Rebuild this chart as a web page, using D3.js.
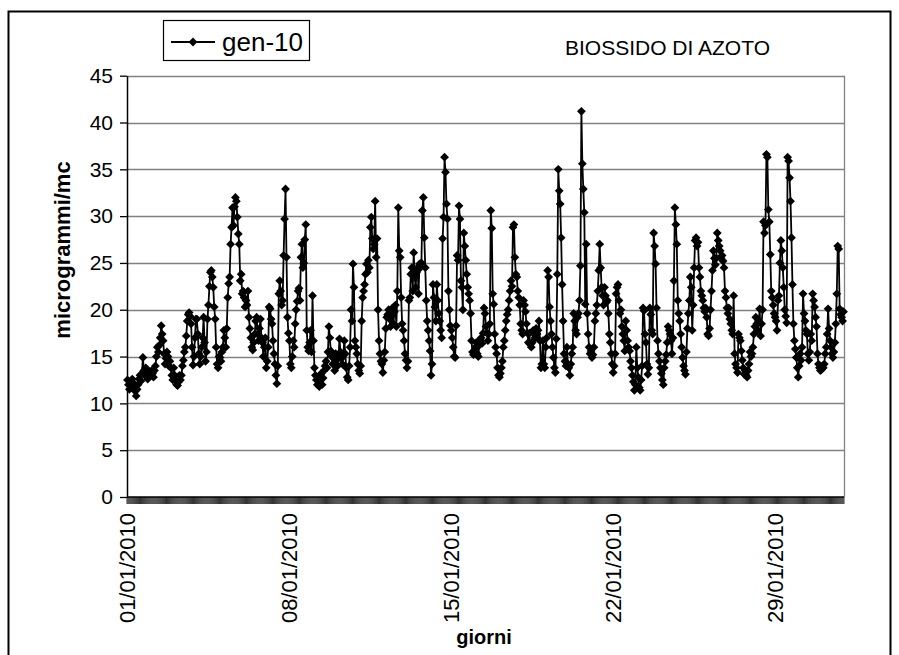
<!DOCTYPE html>
<html><head><meta charset="utf-8">
<script src="https://cdn.jsdelivr.net/npm/d3@7/dist/d3.min.js"></script>
<style>body{margin:0;background:#fff} svg{display:block} text{font-family:Arial,"Liberation Sans",sans-serif;fill:#000}</style>
</head><body><svg id="c" width="899" height="655"></svg>
<script>
// ---- data: hourly NO2, January 2010 (one array per day, 24 hourly values) ----
const day01 = [12.5,12.0,11.5,12.3,11.8,12.6,12.2,11.9,11.3,10.8,11.5,12.0,12.6,13.0,12.4,13.2,14.9,13.5,13.0,13.8,13.2,12.6,13.4,13.0];
const day02 = [13.0,13.5,13.2,12.8,13.5,14.0,15.0,16.0,15.5,16.2,17.0,18.3,17.4,16.7,15.3,14.2,14.8,15.5,15.0,14.0,14.5,13.8,13.0,12.5];
const day03 = [13.8,13.0,12.5,12.0,11.9,12.3,13.0,12.5,13.0,14.0,14.6,15.5,16.0,17.2,18.8,19.5,19.7,19.3,18.5,16.0,14.1,15.0,17.0,19.0];
const day04 = [19.0,17.4,15.3,14.2,15.0,16.0,17.0,19.2,16.5,14.5,15.5,19.0,20.5,22.5,24.0,24.2,23.5,22.4,20.3,19.0,16.0,14.2,13.8,15.0];
const day05 = [14.9,14.5,15.5,16.0,17.8,17.0,16.0,18.0,21.3,22.8,23.5,27.0,28.8,30.9,29.0,31.0,32.0,31.6,29.9,28.1,27.0,23.1,23.8,21.7];
const day06 = [22.0,21.3,20.3,21.0,20.5,22.0,19.2,18.0,17.0,16.0,15.7,16.5,17.4,18.8,19.2,17.4,16.7,18.0,19.0,17.0,16.5,15.0,16.0,17.0];
const day07 = [13.8,14.5,16.0,20.3,20.1,19.0,18.5,16.7,15.3,14.2,13.0,12.1,14.0,21.7,23.1,22.0,20.5,21.0,25.8,29.7,32.9,25.6,19.2,17.5];
const day08 = [16.7,14.2,13.8,15.0,16.7,16.0,18.5,20.0,20.9,22.0,22.3,21.0,25.6,27.0,24.5,25.0,27.5,29.1,17.8,16.0,15.6,16.5,17.8,15.5];
const day09 = [21.5,16.7,13.8,13.0,12.5,12.0,12.5,11.8,12.8,13.2,12.0,12.7,13.5,14.0,14.5,13.8,15.5,18.2,17.0,15.6,15.0,14.2,14.8,13.5];
const day10 = [15.3,14.6,14.0,15.0,16.9,15.5,14.8,14.2,15.3,16.7,15.3,13.8,12.8,12.5,14.0,16.0,20.0,18.8,24.9,22.4,16.7,16.0,15.3,14.2];
const day11 = [13.5,13.2,14.0,18.8,21.3,22.0,22.7,23.8,24.9,24.0,25.3,24.5,28.8,29.9,27.6,26.5,27.0,31.6,25.6,27.6,20.0,16.7,15.3,14.5];
const day12 = [14.2,13.3,14.6,15.5,18.0,19.2,19.5,20.0,19.0,18.2,20.1,19.5,18.5,19.8,20.5,18.2,22.0,30.9,26.3,25.6,21.3,18.5,17.8,16.7];
const day13 = [15.3,14.6,13.8,14.5,21.0,21.3,23.8,24.5,22.0,26.1,23.5,22.4,24.0,24.5,21.7,24.9,24.5,25.0,30.6,32.0,27.7,24.5,21.0,18.8];
const day14 = [17.8,16.7,15.6,13.0,14.2,22.7,21.3,20.3,18.8,22.7,21.0,19.6,18.8,17.8,17.0,27.6,29.9,36.3,34.7,31.3,29.7,22.0,20.0,18.3];
const day15 = [17.8,17.0,16.0,15.0,14.9,18.3,25.8,25.3,31.1,29.7,23.1,22.4,20.0,28.2,26.8,25.3,23.8,22.4,21.7,21.0,19.6,16.7,15.5,15.2];
const day16 = [15.6,16.0,16.5,15.3,15.0,16.2,16.8,17.0,16.4,17.5,20.2,19.6,18.2,17.5,16.7,17.4,18.5,30.6,28.7,21.7,20.6,17.4,16.0,15.3];
const day17 = [13.8,13.0,12.8,13.2,13.8,14.5,16.0,16.7,17.8,18.8,19.5,20.0,21.0,22.0,23.1,22.5,28.8,29.1,25.6,23.8,23.5,22.0,21.3,20.5];
const day18 = [18.5,17.8,17.4,21.0,20.5,19.8,18.5,17.5,16.5,17.5,16.3,16.0,16.5,17.8,17.4,17.0,18.0,17.4,17.8,18.8,16.7,13.8,14.2,16.7];
const day19 = [14.2,13.8,16.0,17.0,24.2,23.5,20.3,18.8,17.4,16.0,14.9,13.8,13.3,16.9,23.8,35.0,32.7,31.3,27.7,22.7,18.8,15.3,14.5,14.0];
const day20 = [16.0,14.2,13.8,13.0,14.2,15.3,16.0,19.6,18.8,17.8,17.4,19.2,19.6,21.0,24.7,41.2,35.6,32.9,30.4,20.6,27.0,19.6,17.4,16.0];
const day21 = [15.3,15.6,14.9,15.2,16.0,18.8,19.6,20.5,22.0,24.2,27.0,24.5,22.4,21.5,20.5,22.4,21.5,20.8,21.0,19.6,17.4,16.5,15.3,14.2];
const day22 = [13.3,14.0,15.3,21.7,22.4,22.7,21.0,19.6,20.0,18.2,17.4,16.7,15.6,18.8,17.8,16.7,16.0,15.6,14.5,13.8,13.0,12.3,11.4,12.0];
const day23 = [16.0,13.8,12.8,11.7,11.4,12.5,14.0,20.2,19.9,17.4,16.5,14.2,13.1,13.8,20.2,19.5,17.8,17.4,28.2,26.8,24.9,20.2,16.7,15.3];
const day24 = [14.5,13.8,13.2,12.5,12.0,13.8,14.5,15.2,16.5,18.2,17.8,17.4,16.7,15.3,17.0,23.1,30.9,29.1,27.0,21.0,19.6,18.8,17.4,16.0];
const day25 = [14.9,14.0,13.5,13.1,15.5,18.0,19.6,21.0,23.5,22.4,17.8,20.5,24.5,27.4,27.7,26.8,27.2,24.5,23.5,22.0,21.5,21.0,20.2,19.8];
const day26 = [20.2,19.2,17.4,17.2,18.0,20.0,22.0,24.2,26.3,25.5,24.8,25.5,28.2,27.4,26.8,26.3,25.5,25.8,25.2,24.5,22.0,21.3,20.2,19.6];
const day27 = [20.2,19.0,18.5,17.8,17.4,21.5,15.3,14.2,13.8,13.3,17.4,17.0,16.7,15.6,14.6,13.8,13.1,13.5,13.0,12.8,13.5,14.2,15.5,15.0];
const day28 = [15.3,16.0,17.4,18.2,19.2,18.5,17.8,18.8,20.1,17.2,18.5,20.0,29.4,28.2,29.0,36.6,36.3,30.7,29.4,25.9,22.0,21.3,20.5,19.6];
const day29 = [19.2,18.8,17.8,21.0,21.5,25.0,27.4,26.3,24.5,22.4,20.0,19.3,18.6,36.3,35.9,34.1,31.6,27.7,22.7,18.5,16.7,15.8,14.9,13.8];
const day30 = [12.8,14.0,15.3,14.6,16.0,21.7,19.6,18.8,17.8,17.4,15.3,14.6,15.5,17.4,16.7,21.7,21.0,20.3,19.2,18.2,15.3,14.2,13.8,13.5];
const day31 = [13.6,14.0,13.8,14.2,15.3,16.0,17.4,20.1,18.0,16.7,16.0,15.3,14.9,15.5,16.5,18.5,21.7,26.8,26.5,20.1,19.5,19.2,18.8,19.8];

const days = [day01,day02,day03,day04,day05,day06,day07,day08,day09,day10,day11,day12,day13,day14,day15,day16,
              day17,day18,day19,day20,day21,day22,day23,day24,day25,day26,day27,day28,day29,day30,day31];
const dayLabels = days.map((_, d) => String(d + 1).padStart(2, "0") + "/01/2010");
const tickLabels = ["01/01/2010", "08/01/2010", "15/01/2010", "22/01/2010", "29/01/2010"];
const yTicks = [0, 5, 10, 15, 20, 25, 30, 35, 40, 45];
const seriesName = "gen-10";
const chartTitle = "BIOSSIDO DI AZOTO";
const xTitle = "giorni";
const yTitle = "microgrammi/mc";

// ---- build hourly categories ----
const points = [];
days.forEach((arr, d) => arr.forEach((v, h) => points.push({ cat: dayLabels[d] + " " + String(h).padStart(2, "0"), day: dayLabels[d], hour: h, v })));
const categories = points.map(p => p.cat);

// ---- layout ----
const svg = d3.select("#c");
const L = 127, R = 844, T = 75.7, B = 497;
const x = d3.scaleBand().domain(categories).range([L, R]).padding(0);
const y = d3.scaleLinear().domain([0, 45]).range([B, T]);
const cx = c => x(c) + x.bandwidth() / 2;

// outer chart border
svg.append("rect").attr("x", 8.5).attr("y", 11.5).attr("width", 882).attr("height", 660)
  .attr("fill", "none").attr("stroke", "#000").attr("stroke-width", 2);

// gridlines
svg.append("g").selectAll("line").data(yTicks.filter(t => t > 0)).join("line")
  .attr("x1", L).attr("x2", R).attr("y1", d => Math.round(y(d)) + 0.5).attr("y2", d => Math.round(y(d)) + 0.5)
  .attr("stroke", "#808080").attr("stroke-width", 1.3);
// plot area right border
svg.append("line").attr("x1", R + 0.5).attr("x2", R + 0.5).attr("y1", T).attr("y2", B)
  .attr("stroke", "#808080").attr("stroke-width", 1.3);

// y axis
const yAxis = d3.axisLeft(y).tickValues(yTicks).tickSize(7).tickPadding(7).tickSizeOuter(0);
const gy = svg.append("g").attr("transform", `translate(${L},0)`).call(yAxis);
gy.select(".domain").attr("stroke", "#000").attr("stroke-width", 1.5);
gy.selectAll(".tick line").attr("stroke", "#000").attr("stroke-width", 1.3);
gy.selectAll(".tick text").attr("font-size", 21).attr("font-family", "Arial, 'Liberation Sans', sans-serif").attr("fill", "#000");

// x axis: tick marks between every hourly category
const gx = svg.append("g");
const boundaries = categories.map(c => x(c)).concat([R]);
gx.selectAll("line.tk").data(boundaries).join("line").attr("class", "tk")
  .attr("x1", d => d).attr("x2", d => d)
  .attr("y1", B).attr("y2", B + 7).attr("stroke", "#000").attr("stroke-width", 0.8);
gx.append("line").attr("x1", L).attr("x2", R).attr("y1", B).attr("y2", B).attr("stroke", "#000").attr("stroke-width", 1.5);
// date labels
const labelPts = points.filter(p => p.hour === 0 && tickLabels.includes(p.day));
gx.selectAll("text").data(labelPts).join("text")
  .attr("transform", p => `translate(${cx(p.cat) + 7.5},${B + 16}) rotate(-90)`)
  .attr("text-anchor", "end").attr("font-size", 22).text(p => p.day);

// line + markers
const line = d3.line().x(p => cx(p.cat)).y(p => y(p.v));
svg.append("path").datum(points).attr("d", line).attr("fill", "none")
  .attr("stroke", "#000").attr("stroke-width", 1.8).attr("stroke-linejoin", "round");
const diamond = "M0,-4.4L4.4,0L0,4.4L-4.4,0Z";
svg.append("g").selectAll("path").data(points).join("path")
  .attr("d", diamond).attr("transform", p => `translate(${cx(p.cat)},${y(p.v)})`).attr("fill", "#000");

// axis titles
svg.append("text").attr("x", 484).attr("y", 644).attr("text-anchor", "middle")
  .attr("font-size", 20).attr("font-weight", "bold").text(xTitle);
svg.append("text").attr("transform", `translate(70,250) rotate(-90)`).attr("text-anchor", "middle")
  .attr("font-size", 22).attr("font-weight", "bold").text(yTitle);

// title
svg.append("text").attr("x", 565).attr("y", 55).attr("font-size", 21).text(chartTitle);

// legend
const lg = svg.append("g");
lg.append("rect").attr("x", 163.5).attr("y", 20.5).attr("width", 146).attr("height", 40)
  .attr("fill", "#fff").attr("stroke", "#000").attr("stroke-width", 1.2);
lg.append("line").attr("x1", 171).attr("x2", 215).attr("y1", 42).attr("y2", 42).attr("stroke", "#000").attr("stroke-width", 1.8);
lg.append("path").attr("d", diamond).attr("transform", "translate(193,42)").attr("fill", "#000");
lg.append("text").attr("x", 222).attr("y", 51).attr("font-size", 26).text(seriesName);
</script></body></html>
